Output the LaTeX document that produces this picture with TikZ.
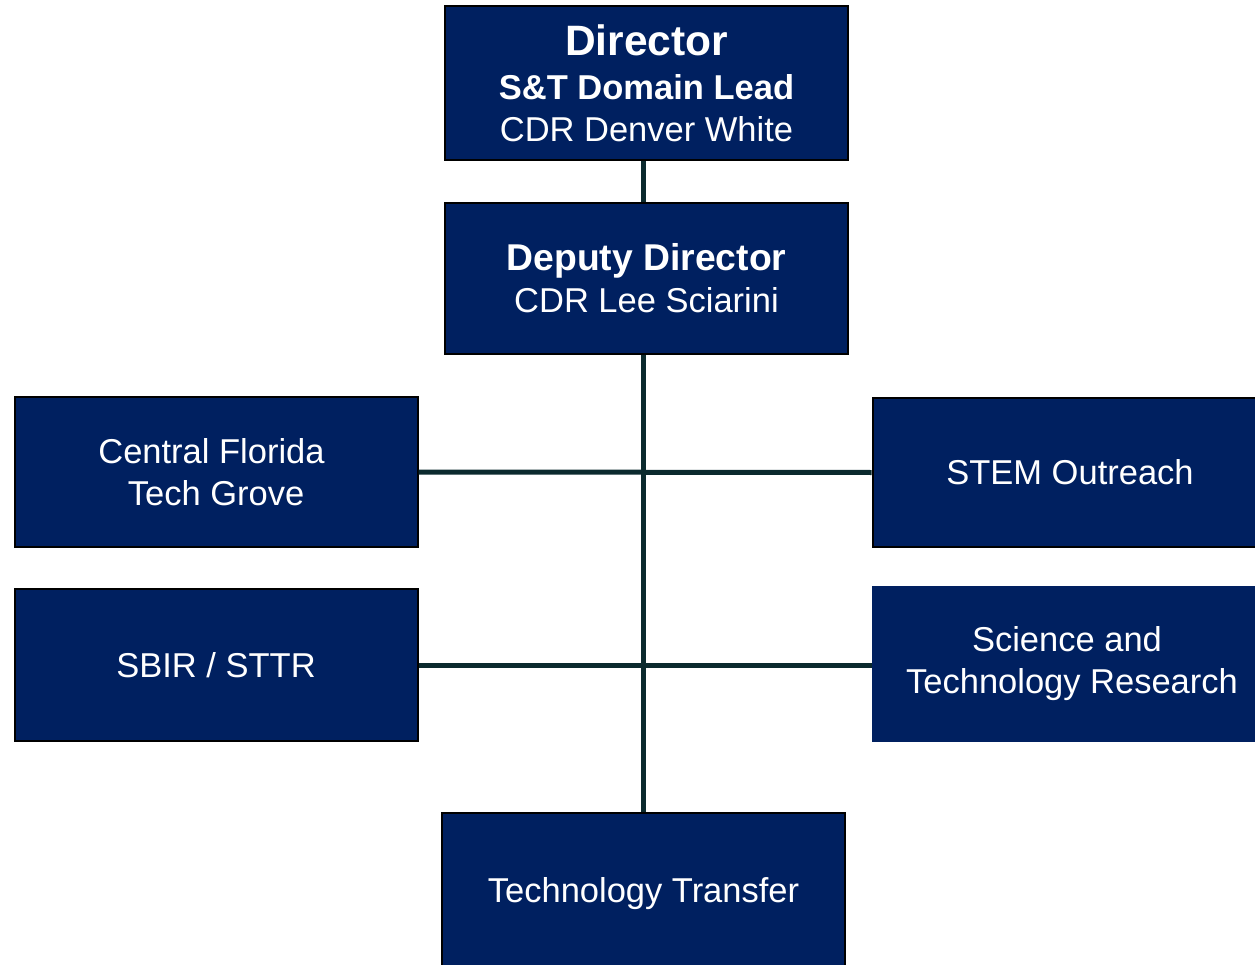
\documentclass[tikz,border=0pt]{standalone}
\usepackage{fontspec}
\setmainfont{Liberation Sans}
\usetikzlibrary{positioning}
\definecolor{navy}{HTML}{002060}
\definecolor{spine}{HTML}{0B2A2E}

\begin{document}
\begin{tikzpicture}[x=1pt, y=-1pt,
    unit/.style={draw=black, line width=2pt, fill=navy, text=white,
                 align=center, inner sep=0pt, minimum width=403pt,
                 font=\fontsize{34.5}{42}\selectfont},
    link/.style={draw=spine, line width=5pt},
]
\useasboundingbox (0,0) rectangle (1255,965);
\node[unit, minimum height=154pt] (dir) at (646.5,83)
   {{\fontsize{42.5}{46}\selectfont\bfseries Director}\\[2pt] \textbf{S\&T Domain Lead}\\ CDR Denver White};
\node[unit, minimum height=151pt] (dep) at (646.5,278.5)
   {{\fontsize{37.3}{42}\selectfont\bfseries Deputy Director}\\ CDR Lee Sciarini};
\node[unit, minimum height=150pt] (cfl) at (216,472)
   {Central Florida\hspace*{9pt}\\ Tech Grove};
\node[unit, minimum height=149pt] (stem) at (1074,472.5) {STEM Outreach\hspace*{8pt}};
\node[unit, minimum height=152pt] (sbir) at (216,665) {SBIR / STTR};
\node[unit, draw=navy, minimum height=154pt] (str) at (1074,664)
   {Science and\hspace*{14pt}\\ Technology Research\hspace*{4pt}};
\node[unit, minimum height=162pt] (tt) at (643.5,894) {Technology Transfer};
\draw[link] (dir.south -| tt.north) -- (dep.north -| tt.north);
\draw[link] (dep.south -| tt.north) -- (tt.north);
\draw[link] (cfl.east) -- (stem.west);
\draw[link] (sbir.east) -- (sbir.east -| str.west);
\end{tikzpicture}
\end{document}
